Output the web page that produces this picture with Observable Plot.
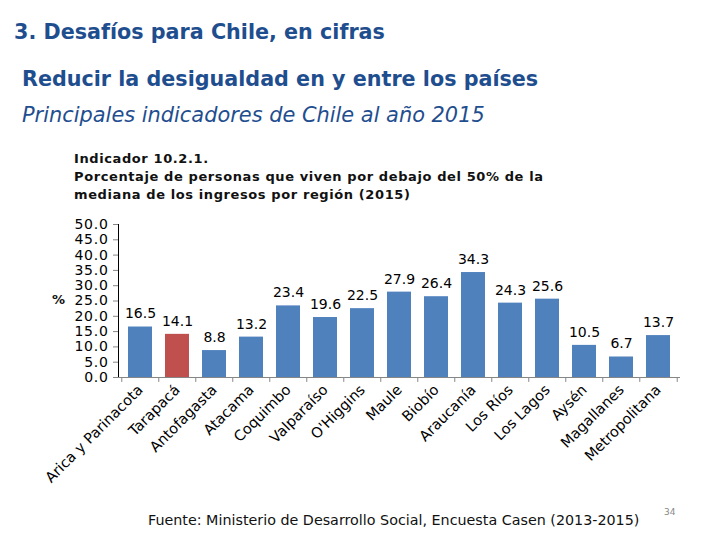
<!DOCTYPE html>
<html>
<head>
<meta charset="utf-8">
<script src="https://cdn.jsdelivr.net/npm/d3@7"></script>
<script src="https://cdn.jsdelivr.net/npm/@observablehq/plot@0.6"></script>
<style>
  html, body { margin: 0; padding: 0; background: #fff; }
  body { width: 720px; height: 540px; position: relative; overflow: hidden; font-family: "DejaVu Sans", Verdana, sans-serif; }
  .t { position: absolute; white-space: nowrap; line-height: 1; }
  #title { left: 14px; top: 22px; font-size: 20.7px; font-weight: bold; color: #1F4E8F; }
  #sub { left: 22px; top: 69px; font-size: 20.7px; font-weight: bold; color: #1F4E8F; }
  #sub2 { left: 22px; top: 105px; font-size: 20.9px; font-style: italic; color: #1F4E8F; }
  #ind { left: 74px; top: 150px; font-size: 13px; font-weight: bold; color: #111; line-height: 18px; white-space: pre; letter-spacing: 0.6px; }
  #pct { left: 52px; top: 293px; font-size: 13px; font-weight: bold; color: #111; }
  #src { left: 148px; top: 513px; font-size: 14.3px; color: #111; }
  #page { left: 664px; top: 508px; font-size: 9px; color: #888; }
  #chart { position: absolute; left: 0; top: 210px; }
</style>
</head>
<body>
<div class="t" id="title">3. Desafíos para Chile, en cifras</div>
<div class="t" id="sub">Reducir la desigualdad en y entre los países</div>
<div class="t" id="sub2">Principales indicadores de Chile al año 2015</div>
<div class="t" id="ind">Indicador 10.2.1.
Porcentaje de personas que viven por debajo del 50% de la
mediana de los ingresos por región (2015)</div>
<div class="t" id="pct">%</div>
<div id="chart"></div>
<div class="t" id="src">Fuente: Ministerio de Desarrollo Social, Encuesta Casen (2013-2015)</div>
<div class="t" id="page">34</div>
<script>
const regions = ["Arica y Parinacota", "Tarapacá", "Antofagasta", "Atacama", "Coquimbo", "Valparaíso", "O'Higgins", "Maule", "Biobío", "Araucanía", "Los Ríos", "Los Lagos", "Aysén", "Magallanes", "Metropolitana"];
const values = [16.5, 14.1, 8.8, 13.2, 23.4, 19.6, 22.5, 27.9, 26.4, 34.3, 24.3, 25.6, 10.5, 6.7, 13.7];
const highlighted = ["Tarapacá"];
const yTicks = [0, 5, 10, 15, 20, 25, 30, 35, 40, 45, 50];

const data = regions.map((r, i) => ({region: r, value: values[i]}));

const W = 720, ML = 118, MR = 40;
const step = (W - ML - MR) / regions.length;

const chart = Plot.plot({
  width: W,
  height: 290,
  marginLeft: ML,
  marginRight: MR,
  marginTop: 14,
  marginBottom: 123,
  style: {fontFamily: "DejaVu Sans, Verdana, sans-serif", fontSize: "14px", color: "#000", background: "transparent"},
  x: {domain: regions, paddingInner: 0.36, paddingOuter: 0.18, label: null, tickRotate: -45, tickSize: 0, tickPadding: 10},
  y: {domain: [0, 50], ticks: yTicks, tickFormat: d => d.toFixed(1), label: null, tickSize: 5, tickPadding: 5, line: true},
  color: {type: "identity"},
  marks: [
    Plot.barY(data, {x: "region", y: "value", fill: d => highlighted.includes(d.region) ? "#C0504D" : "#4F81BD"}),
    Plot.text(data, {x: "region", y: "value", text: d => d.value.toFixed(1), dy: -13, fontSize: 14, fill: "#000"}),
    Plot.ruleY([0], {stroke: "#868686"}),
    Plot.ruleX(regions, {x: d => d, y1: 0, y2: -1.6, dx: -step / 2, stroke: "#868686"}),
    Plot.ruleX(regions.slice(-1), {x: d => d, y1: 0, y2: -1.6, dx: step / 2, stroke: "#868686"})
  ]
});
const svg = d3.select(chart);
svg.selectAll("g[aria-label='y-axis tick'], g[aria-label='frame']").attr("stroke", "#868686");
svg.selectAll("[aria-label='frame'] line, [aria-label='frame'] rect").attr("stroke", "#868686");
svg.selectAll("g[aria-label='y-axis tick label']").attr("font-size", 14).style("letter-spacing", "0.7px");
svg.selectAll("g[aria-label='x-axis tick label']").attr("font-size", 14.5);
document.getElementById("chart").appendChild(chart);
</script>
</body>
</html>
